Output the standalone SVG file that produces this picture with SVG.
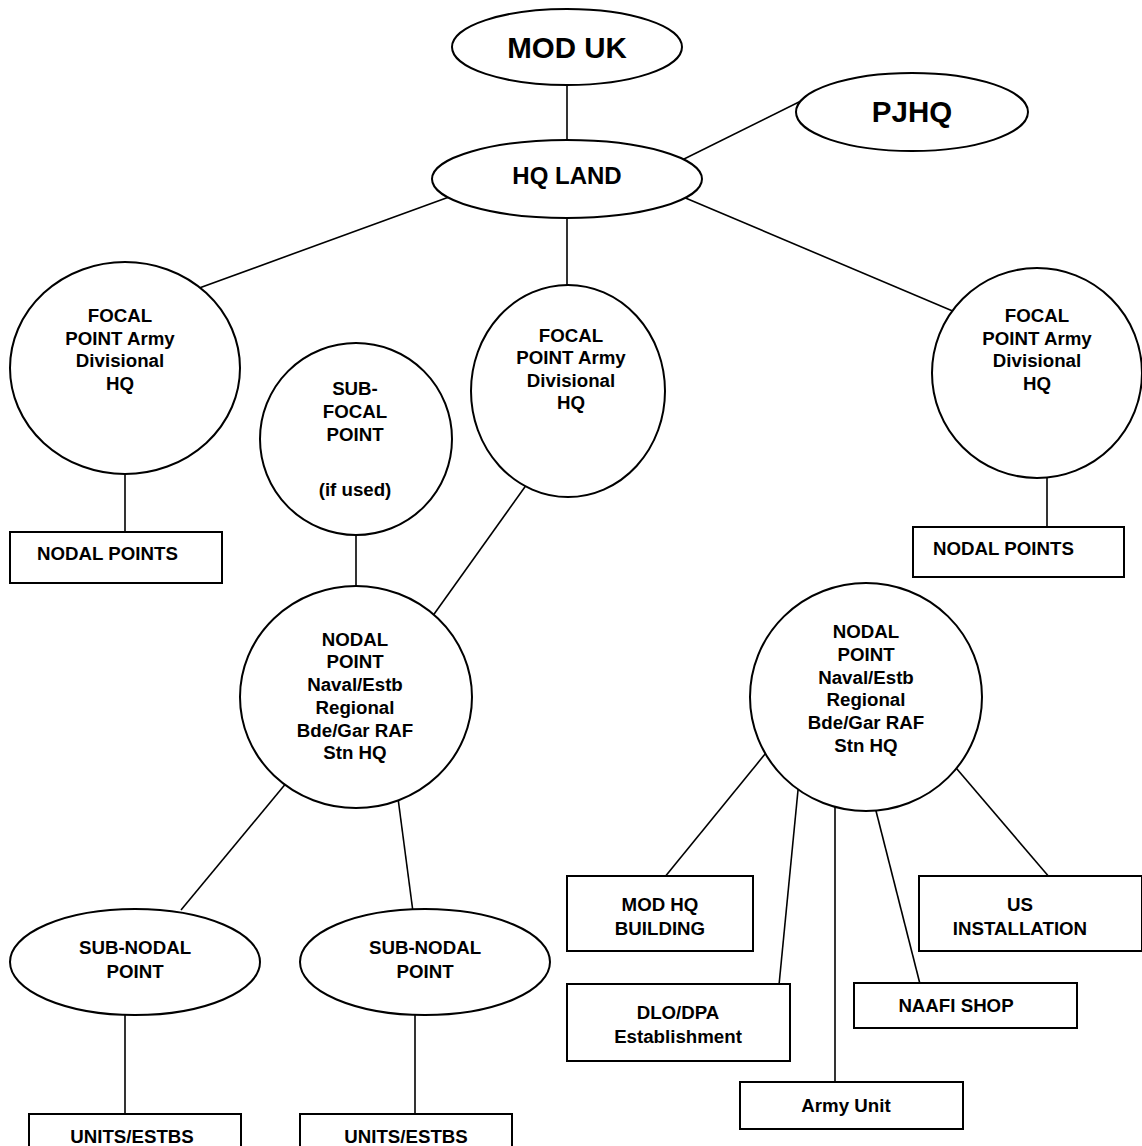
<svg xmlns="http://www.w3.org/2000/svg" width="1142" height="1146" viewBox="0 0 1142 1146">
<style>
.s{fill:#fff;stroke:#000;stroke-width:2}
.c line{stroke:#000;stroke-width:1.6}
text{font-family:"Liberation Sans",Arial,sans-serif;font-weight:bold;fill:#000;text-anchor:middle;font-size:18.7px}
.big{font-size:29.5px}
.mid{font-size:24px}
</style>
<rect width="1142" height="1146" fill="#fff"/>
<g class="c" id="connectors">
<line x1="567" y1="80" x2="567" y2="145"/>
<line x1="678" y1="162" x2="805" y2="99"/>
<line x1="460" y1="193" x2="180" y2="295"/>
<line x1="567" y1="214" x2="567" y2="292"/>
<line x1="676" y1="194" x2="955" y2="312"/>
<line x1="125" y1="465" x2="125" y2="533"/>
<line x1="1047" y1="465" x2="1047" y2="528"/>
<line x1="356" y1="530" x2="356" y2="592"/>
<line x1="527" y1="484" x2="432" y2="617"/>
<line x1="297" y1="770" x2="181" y2="910"/>
<line x1="396" y1="783" x2="413" y2="912"/>
<line x1="125" y1="1010" x2="125" y2="1116"/>
<line x1="415" y1="1010" x2="415" y2="1116"/>
<line x1="770" y1="748" x2="664" y2="878"/>
<line x1="799" y1="780" x2="779" y2="985"/>
<line x1="835" y1="805" x2="835" y2="1083"/>
<line x1="874" y1="803" x2="920" y2="984"/>
<line x1="945" y1="755" x2="1050" y2="878"/>
</g>
<g id="mod-uk"><ellipse class="s" cx="567" cy="47" rx="115" ry="38"/><text class="big" x="567" y="58">MOD UK</text></g>
<g id="pjhq"><ellipse class="s" cx="912" cy="112" rx="116" ry="39"/><text class="big" x="912" y="122">PJHQ</text></g>
<g id="hq-land"><ellipse class="s" cx="567" cy="179" rx="135" ry="39"/><text class="mid" x="567" y="184">HQ LAND</text></g>
<g id="focal-left"><ellipse class="s" cx="125" cy="368" rx="115" ry="106"/>
<text x="120" y="322">FOCAL</text><text x="120" y="345">POINT Army</text><text x="120" y="367">Divisional</text><text x="120" y="390">HQ</text></g>
<g id="focal-mid"><ellipse class="s" cx="568" cy="391" rx="97" ry="106"/>
<text x="571" y="342">FOCAL</text><text x="571" y="364">POINT Army</text><text x="571" y="387">Divisional</text><text x="571" y="409">HQ</text></g>
<g id="focal-right"><ellipse class="s" cx="1037" cy="373" rx="105" ry="105"/>
<text x="1037" y="322">FOCAL</text><text x="1037" y="345">POINT Army</text><text x="1037" y="367">Divisional</text><text x="1037" y="390">HQ</text></g>
<g id="sub-focal"><ellipse class="s" cx="356" cy="439" rx="96" ry="96"/>
<text x="355" y="395">SUB-</text><text x="355" y="418">FOCAL</text><text x="355" y="441">POINT</text><text x="355" y="496">(if used)</text></g>
<g id="nodal-points-left"><rect class="s" x="10" y="532" width="212" height="51"/><text x="37" y="560" style="text-anchor:start">NODAL POINTS</text></g>
<g id="nodal-points-right"><rect class="s" x="913" y="527" width="211" height="50"/><text x="933" y="555" style="text-anchor:start">NODAL POINTS</text></g>
<g id="nodal-left"><ellipse class="s" cx="356" cy="697" rx="116" ry="111"/>
<text x="355" y="646">NODAL</text><text x="355" y="668">POINT</text><text x="355" y="691">Naval/Estb</text><text x="355" y="714">Regional</text><text x="355" y="737">Bde/Gar RAF</text><text x="355" y="759">Stn HQ</text></g>
<g id="nodal-right"><ellipse class="s" cx="866" cy="697" rx="116" ry="114"/>
<text x="866" y="638">NODAL</text><text x="866" y="661">POINT</text><text x="866" y="684">Naval/Estb</text><text x="866" y="706">Regional</text><text x="866" y="729">Bde/Gar RAF</text><text x="866" y="752">Stn HQ</text></g>
<g id="sub-nodal-left"><ellipse class="s" cx="135" cy="962" rx="125" ry="53"/><text x="135" y="954">SUB-NODAL</text><text x="135" y="978">POINT</text></g>
<g id="sub-nodal-right"><ellipse class="s" cx="425" cy="962" rx="125" ry="53"/><text x="425" y="954">SUB-NODAL</text><text x="425" y="978">POINT</text></g>
<g id="units-left"><rect class="s" x="29" y="1114" width="212" height="40"/><text x="132" y="1143">UNITS/ESTBS</text></g>
<g id="units-right"><rect class="s" x="300" y="1114" width="212" height="40"/><text x="406" y="1143">UNITS/ESTBS</text></g>
<g id="mod-hq"><rect class="s" x="567" y="876" width="186" height="75"/><text x="660" y="911">MOD HQ</text><text x="660" y="935">BUILDING</text></g>
<g id="dlo-dpa"><rect class="s" x="567" y="984" width="223" height="77"/><text x="678" y="1019">DLO/DPA</text><text x="678" y="1043">Establishment</text></g>
<g id="army-unit"><rect class="s" x="740" y="1082" width="223" height="47"/><text x="846" y="1112">Army Unit</text></g>
<g id="naafi"><rect class="s" x="854" y="983" width="223" height="45"/><text x="956" y="1012">NAAFI SHOP</text></g>
<g id="us"><rect class="s" x="919" y="876" width="223" height="75"/><text x="1020" y="911">US</text><text x="1020" y="935">INSTALLATION</text></g>
</svg>
